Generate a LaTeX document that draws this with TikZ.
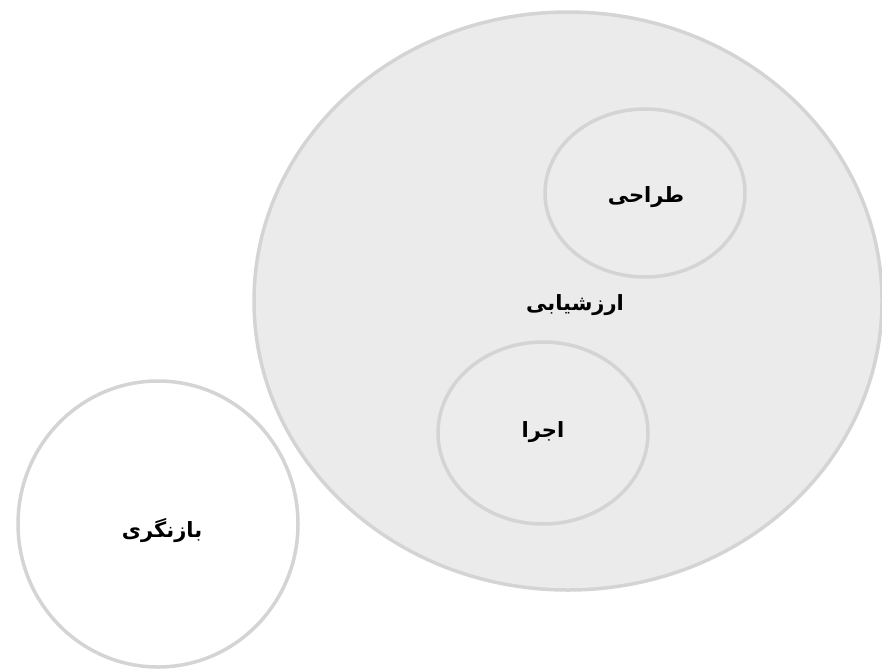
\documentclass[tikz,border=0pt]{standalone}
\usepackage{fontspec}
\TeXXeTstate=1
\newfontfamily\arabicfont[Script=Arabic]{DejaVu Sans}
\begin{document}
\begin{tikzpicture}[x=1pt,y=-1pt,
  ring/.style={draw=black!17,line width=3.5pt},
  lbl/.style={font=\arabicfont\bfseries\fontsize{21}{25}\selectfont,text=black}]
\useasboundingbox (0,0) rectangle (882,669);
\draw[ring,fill=black!8] (568,301) ellipse [x radius=314,y radius=289];
\draw[ring,fill=black!7.5] (645,193) ellipse [x radius=100,y radius=84];
\draw[ring,fill=black!7.5] (543,433) ellipse [x radius=105,y radius=91];
\draw[ring,fill=white] (158,524) ellipse [x radius=140,y radius=143];
\node[lbl] (tarahi) at (646,197) {\beginR طراحی\endR};
\node[lbl] (arzyabi) at (575,305) {\beginR ارزشیابی\endR};
\node[lbl] (ejra) at (543,432) {\beginR اجرا\endR};
\node[lbl] (baz) at (162,531) {\beginR بازنگری\endR};
\end{tikzpicture}
\end{document}
